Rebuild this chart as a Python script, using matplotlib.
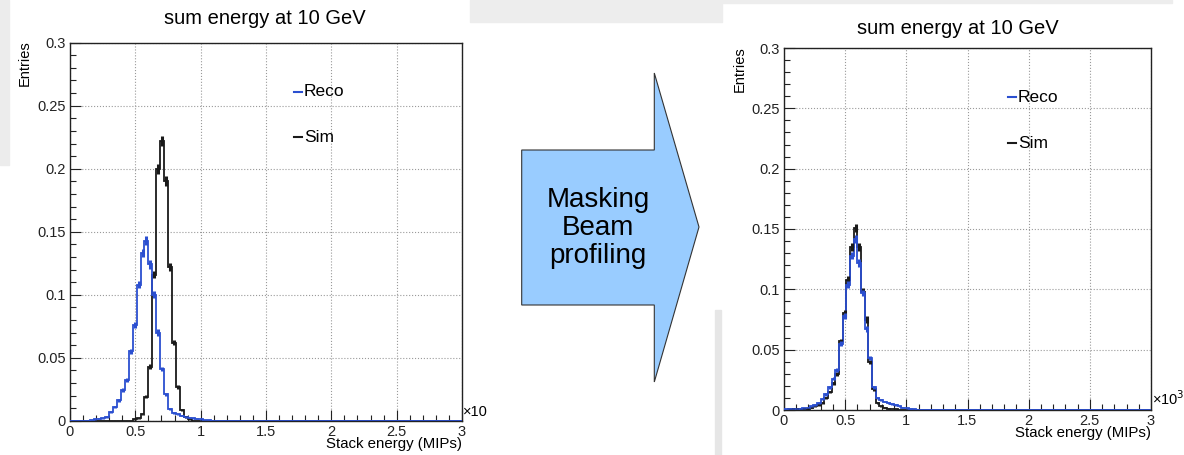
import numpy as np
import matplotlib
matplotlib.use('Agg')
import matplotlib.pyplot as plt
from matplotlib.patches import Polygon, Rectangle
from matplotlib.ticker import MultipleLocator, FuncFormatter

plt.rcParams['font.family'] = ['Liberation Sans', 'DejaVu Sans']

W, H = 1184, 455

# 100 bins from 0 to 3 (x10^3 MIPs)
edges = np.linspace(0, 3, 101)

# bin contents (normalised), each list starts at the bin index given by *_first
reco_before_first = 5
reco_before = [0.0005, 0.001, 0.0015, 0.002, 0.003, 0.007, 0.011, 0.0164, 0.0243, 0.032,
               0.055, 0.076, 0.108, 0.133, 0.143, 0.124, 0.100, 0.070, 0.041, 0.021,
               0.009, 0.006, 0.005, 0.004, 0.003, 0.0025, 0.002, 0.0015, 0.001, 0.0007, 0.0005]
sim_before_first = 16
sim_before = [0.001, 0.002, 0.005, 0.019, 0.043, 0.116, 0.200, 0.222, 0.190, 0.122,
              0.062, 0.027, 0.0085, 0.003, 0.001]

reco_after_first = 0
reco_after = [0.0005, 0.001, 0.001, 0.001, 0.001, 0.0015, 0.002, 0.003, 0.004, 0.006,
              0.009, 0.013, 0.019, 0.026, 0.033, 0.055, 0.078, 0.104, 0.128, 0.142,
              0.122, 0.097, 0.067, 0.043, 0.019, 0.010, 0.008, 0.007, 0.006, 0.005,
              0.004, 0.003, 0.002, 0.0015, 0.001, 0.0007]
sim_after_first = 1
sim_after = [0.0005, 0.001, 0.001, 0.0005, 0.001, 0.001, 0.002, 0.003, 0.004,
             0.006, 0.010, 0.015, 0.022, 0.030, 0.057, 0.080, 0.108, 0.135, 0.151,
             0.135, 0.098, 0.075, 0.040, 0.017, 0.006, 0.003, 0.002, 0.001, 0.0007, 0.0005]

n_events = 12000  # approx. statistics, used for the error markers

title = 'sum energy at 10 GeV'
xlabel = 'Stack energy (MIPs)'
ylabel = 'Entries'
labels = ['Reco', 'Sim']
colors = ['#2b4fd0', '#1a1a1a']


def fill_bins(first, vals):
    out = np.zeros(len(edges) - 1)
    out[first:first + len(vals)] = vals
    return out


def fx(px):
    return px / W


def fy(py):
    return 1 - py / H


fig = plt.figure(figsize=(W / 100, H / 100), dpi=100)

# slide background bits
fig.patches.append(Rectangle((fx(0), fy(165)), fx(9), 165 / H, transform=fig.transFigure,
                             color='#ececec', zorder=0))
fig.patches.append(Rectangle((fx(470), fy(22)), fx(252), 22 / H, transform=fig.transFigure,
                             color='#ededed', zorder=0))
fig.patches.append(Rectangle((fx(722), fy(3)), fx(450), 3 / H, transform=fig.transFigure,
                             color='#ededed', zorder=0))
fig.patches.append(Rectangle((fx(715), fy(455)), fx(6), 145 / H, transform=fig.transFigure,
                             color='#e6e6e6', zorder=0))


def draw_panel(rect, reco, sim, title_xy, ylab_xy, xlab_y, lab_px, exp_text):
    ax = fig.add_axes(rect)
    centers = 0.5 * (edges[:-1] + edges[1:])
    for vals, col in [(sim, colors[1]), (reco, colors[0])]:
        ax.stairs(vals, edges, color=col, lw=1.3, zorder=3)
        m = vals > 0
        ax.errorbar(centers[m], vals[m], yerr=np.sqrt(vals[m] / n_events), fmt='none',
                    ecolor=col, elinewidth=2.2, capsize=0, zorder=4)
    ax.set_xlim(0, 3)
    ax.set_ylim(0, 0.3)
    ax.xaxis.set_major_locator(MultipleLocator(0.5))
    ax.xaxis.set_minor_locator(MultipleLocator(0.1))
    ax.yaxis.set_major_locator(MultipleLocator(0.05))
    ax.yaxis.set_minor_locator(MultipleLocator(0.01))
    fmt = FuncFormatter(lambda v, p: '%g' % round(v, 3))
    ax.xaxis.set_major_formatter(fmt)
    ax.yaxis.set_major_formatter(fmt)
    ax.tick_params(which='both', direction='in', top=False, right=False, labelsize=10.5,
                   width=0.8, colors='#222222')
    ax.tick_params(which='major', length=8, pad=3)
    ax.tick_params(which='minor', length=4)
    ax.grid(True, which='major', color='#9a9a9a', ls=':', lw=0.8)
    for s in ax.spines.values():
        s.set_linewidth(1.0)
        s.set_color('#222222')

    fig.text(fx(title_xy[0]), fy(title_xy[1]), title, ha='center', va='center', fontsize=14.5)
    fig.text(fx(ylab_xy[0]), fy(ylab_xy[1]), ylabel, rotation=90, ha='center', va='top',
             fontsize=10.5)
    ax.text(1.0, -xlab_y, xlabel, transform=ax.transAxes, ha='right', va='top', fontsize=10.8)
    ax.text(1.003, 0.005, exp_text, transform=ax.transAxes, ha='left', va='bottom',
            fontsize=10.5, clip_on=False)

    # ROOT style legend without box
    for (lx, ly), lab, col in zip(lab_px, labels, colors):
        fig.add_artist(plt.Line2D([fx(lx), fx(lx + 8)], [fy(ly), fy(ly)], color=col, lw=1.5,
                                  transform=fig.transFigure))
        fig.text(fx(lx + 10), fy(ly), lab, ha='left', va='center', fontsize=12.5)
    return ax


draw_panel([fx(70), fy(420.7), 392 / W, 378 / H],
           fill_bins(reco_before_first, reco_before), fill_bins(sim_before_first, sim_before),
           (265, 18), (25, 40), 0.043, [(294, 92), (294, 137)], '×10')
draw_panel([fx(784), fy(410), 367 / W, 362 / H],
           fill_bins(reco_after_first, reco_after), fill_bins(sim_after_first, sim_after),
           (958, 28), (740, 46), 0.045, [(1008, 97), (1008, 143)], '×10$^{3}$')

# arrow between the two panels
arrow_px = [(521.7, 150), (654.3, 150), (654.3, 73), (699, 227), (654.3, 382),
            (654.3, 305), (521.7, 305)]
fig.patches.append(Polygon([(fx(x), fy(y)) for x, y in arrow_px], closed=True,
                           transform=fig.transFigure, facecolor='#99ccff',
                           edgecolor='#333333', lw=0.8, zorder=1))
fig.text(fx(598), fy(228), 'Masking\nBeam\nprofiling', ha='center', va='center',
         fontsize=20, linespacing=1.1)

fig.savefig('out.png', dpi=100)
